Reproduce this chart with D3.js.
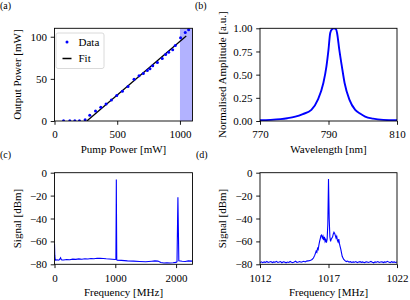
<!DOCTYPE html>
<html><head><meta charset="utf-8">
<script src="https://cdn.jsdelivr.net/npm/d3@7/dist/d3.min.js"></script>
<style>
html,body{margin:0;padding:0;background:#fff;}
svg{display:block;}
svg text{font-family:"Liberation Serif","Times New Roman",serif !important;fill:#000;}
</style></head>
<body>
<svg id="fig" width="410" height="300"></svg>
<script>
// ---------- data ----------
// (a) pump vs output power
const aPump = [72,122,162,199,244,281,327,369,411,454,496,541,586,634,674,708,740,761,783,820,859,886,910,942,963,1005,1042,1069];
const aOut  = [0.3,0.3,0.3,0.3,1.5,6.7,11.9,16.3,20.2,25,30.2,35.3,40.9,49.6,53.6,56.4,59.9,61.9,65.5,69.4,74.2,79,81.7,84.5,89.7,98.8,105,108.3];
const aFitX = [258,1050];
const aFitY = [0,101];
const aShade = [1000,1100];
const aXTicks = [0,500,1000];
const aYTicks = [0,50,100];

// (b) spectrum
const bWl  = [770,773,776,778,780.3,782.5,785.0,786.9,788.5,789.4,790.0,790.5,791.0,791.6,792.2,792.5,793.15,793.9,794.7,796.1,797.8,799.2,800.7,803,806,810];
const bAmp = [0.008,0.012,0.02,0.03,0.047,0.075,0.12,0.23,0.41,0.59,0.77,0.95,0.99,1.0,0.99,0.95,0.77,0.59,0.41,0.23,0.12,0.08,0.047,0.025,0.012,0.008];
const bXTicks = [770,790,810];
const bYTicks = [0,0.25,0.5,0.75,1.0];

// (c) wide RF spectrum
const cFreq = [0,2,5,10,20,40,60,80,100,110,120,150,200,250,300,350,400,450,500,550,600,650,700,750,800,850,900,950,1000,1010,1015,1017,1019,1024,1030,1100,1200,1300,1400,1500,1600,1650,1700,1750,1800,1850,1900,1950,2000,2015,2025,2030,2035,2045,2100,2150,2200,2270];
const cSig  = [-62,-66,-72,-75,-76.5,-76,-76.3,-76,-74.3,-75.8,-76.2,-76.2,-75.8,-76,-75.5,-75.7,-75.3,-75.6,-75.2,-75.4,-75,-75.2,-74.7,-74.8,-74.9,-75.2,-75.4,-75.6,-75.8,-75.5,-30,-6,-30,-75.8,-76.4,-76.6,-77,-77.2,-77.5,-77.8,-77.3,-77,-77.2,-78.5,-78.8,-78.7,-78.8,-78.6,-78.3,-77.8,-40,-21.5,-40,-77,-77.3,-77.5,-77,-77.2];
const cXTicks = [0,1000,2000];
const cYTicks = [-80,-60,-40,-20,0];

// (d) zoomed RF spectrum
const dFreq = [1012.0,1012.1,1012.2,1012.3,1012.4,1012.5,1012.6,1012.7,1012.8,1012.9,1013.0,1013.1,1013.2,1013.3,1013.4,1013.5,1013.6,1013.7,1013.8,1013.9,1014.0,1014.1,1014.2,1014.3,1014.4,1014.5,1014.6,1014.7,1014.8,1014.9,1015.0,1015.1,1015.2,1015.3,1015.4,1015.5,1015.6,1015.7,1015.8,1015.9,1016.0,1016.1,1016.15,1016.2,1016.25,1016.3,1016.35,1016.4,1016.45,1016.5,1016.55,1016.6,1016.65,1016.7,1016.75,1016.8,1016.85,1016.9,1016.95,1017.0,1017.05,1017.1,1017.15,1017.2,1017.25,1017.3,1017.35,1017.4,1017.45,1017.5,1017.55,1017.6,1017.65,1017.7,1017.75,1017.8,1017.85,1017.9,1017.95,1018.0,1018.1,1018.2,1018.3,1018.4,1018.5,1018.6,1018.7,1018.8,1018.9,1019.0,1019.1,1019.2,1019.3,1019.4,1019.5,1019.6,1019.7,1019.8,1019.9,1020.0,1020.1,1020.2,1020.3,1020.4,1020.5,1020.6,1020.7,1020.8,1020.9,1021.0,1021.1,1021.2,1021.3,1021.4,1021.5,1021.6,1021.7,1021.8,1021.9,1022.0];
const dSig  = [-78.5,-77.8,-78.6,-77.9,-78.3,-77.5,-78.4,-78.0,-77.6,-78.5,-77.9,-78.2,-77.4,-78.3,-78.0,-77.6,-78.6,-77.8,-78.1,-78.7,-78.0,-78.4,-77.5,-78.2,-78.6,-77.9,-77.3,-78.3,-78.0,-77.6,-78.2,-77.8,-77.4,-77.9,-77.2,-77.0,-76.8,-76.5,-75.8,-74.5,-72.0,-68.5,-69.5,-66.0,-67.0,-63.0,-60.0,-57.5,-55.0,-54.5,-57.0,-55.5,-59.0,-56.0,-60.0,-58.5,-61.0,-58.0,-45.0,-5.5,-40.0,-56.0,-60.0,-58.0,-57.0,-56.0,-53.5,-52.0,-53.0,-55.0,-57.0,-55.5,-59.0,-60.5,-58.0,-62.0,-64.5,-67.0,-70.0,-73.0,-75.5,-76.8,-77.6,-77.2,-78.1,-77.7,-78.4,-77.9,-78.2,-77.6,-78.5,-78.0,-77.7,-78.3,-77.9,-78.6,-78.1,-77.8,-78.4,-78.0,-77.5,-78.3,-78.7,-77.9,-78.2,-77.6,-78.4,-78.0,-77.8,-78.5,-77.9,-78.2,-77.4,-78.1,-78.6,-77.7,-78.3,-77.9,-78.4,-78.0];
const dXTicks = [1012,1017,1022];
const dYTicks = [-80,-60,-40,-20,0];

// ---------- drawing ----------
const svg = d3.select("#fig");
const FS = 11;
const BLUE = "#0000ff";

function panel(o) {
  const g = svg.append("g");
  const x = d3.scaleLinear().domain(o.xd).range([o.l, o.r]);
  const y = d3.scaleLinear().domain(o.yd).range([o.b, o.t]);
  const clipId = "clip" + o.id;
  svg.append("clipPath").attr("id", clipId).append("rect")
    .attr("x", o.l).attr("y", o.t).attr("width", o.r - o.l).attr("height", o.b - o.t);
  const plot = g.append("g").attr("clip-path", `url(#${clipId})`);
  o.draw(plot, x, y);
  g.append("rect").attr("x", o.l).attr("y", o.t).attr("width", o.r - o.l).attr("height", o.b - o.t)
    .attr("fill", "none").attr("stroke", "#000").attr("stroke-width", 0.9);
  const xa = g.append("g").attr("transform", `translate(0,${o.b})`)
    .call(d3.axisBottom(x).tickValues(o.xt).tickSize(3.8).tickPadding(5.6).tickFormat(o.xf || d3.format("d")));
  const ya = g.append("g").attr("transform", `translate(${o.l},0)`)
    .call(d3.axisLeft(y).tickValues(o.yt).tickSize(3.8).tickPadding(3.6).tickFormat(o.yf || d3.format("d")));
  [xa, ya].forEach(a => {
    a.attr("font-size", FS);
    a.select(".domain").remove();
    a.selectAll("line").attr("stroke", "#000").attr("stroke-width", 0.9);
    a.selectAll("text").style("font-size", FS + "px");
  });
  g.append("text").attr("x", (o.l + o.r) / 2).attr("y", o.b + 32).attr("text-anchor", "middle")
    .style("font-size", FS + "px").text(o.xl);
  g.append("text").attr("transform", `translate(${o.yx},${(o.t + o.b) / 2}) rotate(-90)`)
    .attr("text-anchor", "middle").style("font-size", FS + "px").text(o.yl);
  g.append("text").attr("x", o.px).attr("y", o.py).style("font-size", (FS - 1) + "px").text(o.lab);
}

const line = (x, y, xs, ys) => d3.line().x((d, i) => x(xs[i])).y((d, i) => y(ys[i]))(xs);

// (a)
panel({
  id: "a", l: 54.5, r: 192.5, t: 28.3, b: 121, xd: [0, 1100], yd: [0, 110],
  xt: aXTicks, yt: aYTicks, xl: "Pump Power [mW]", yl: "Output Power [mW]",
  yx: 20.5, px: 0, py: 9, lab: "(a)",
  draw: (p, x, y) => {
    p.append("rect").attr("x", x(aShade[0])).attr("y", y(110)).attr("width", x(aShade[1]) - x(aShade[0]))
      .attr("height", y(0) - y(110)).attr("fill", BLUE).attr("fill-opacity", 0.3);
    p.append("path").attr("d", line(x, y, aFitX, aFitY)).attr("stroke", "#000").attr("stroke-width", 1.3).attr("fill", "none");
    p.selectAll("circle.pt").data(aPump).enter().append("circle")
      .attr("cx", d => x(d)).attr("cy", (d, i) => y(aOut[i])).attr("r", 1.5).attr("fill", BLUE);
    const lg = p.append("g");
    lg.append("rect").attr("x", 56).attr("y", 33).attr("width", 48).attr("height", 35.5).attr("rx", 2)
      .attr("fill", "#fff").attr("fill-opacity", 0.85).attr("stroke", "#d0d0d0").attr("stroke-width", 0.8);
    lg.append("circle").attr("cx", 67).attr("cy", 42).attr("r", 1.5).attr("fill", BLUE);
    lg.append("text").attr("x", 78.5).attr("y", 46.3).style("font-size", FS + "px").text("Data");
    lg.append("line").attr("x1", 62.5).attr("x2", 71.5).attr("y1", 58.5).attr("y2", 58.5).attr("stroke", "#000").attr("stroke-width", 1.3);
    lg.append("text").attr("x", 78.5).attr("y", 62.3).style("font-size", FS + "px").text("Fit");
  }
});

// (b)
panel({
  id: "b", l: 260, r: 397, t: 28.3, b: 121, xd: [770, 810], yd: [0, 1],
  xt: bXTicks, yt: bYTicks, yf: d3.format(".2f"), xl: "Wavelength [nm]", yl: "Normalised Amplitude [a.u.]",
  yx: 226, px: 195, py: 9, lab: "(b)",
  draw: (p, x, y) => {
    p.append("path").attr("d", d3.line().curve(d3.curveMonotoneX).x((d, i) => x(bWl[i])).y((d, i) => y(bAmp[i]))(bWl))
      .attr("stroke", BLUE).attr("stroke-width", 1.9).attr("fill", "none");
  }
});

// (c)
panel({
  id: "c", l: 54.5, r: 192.5, t: 172.7, b: 264.3, xd: [0, 2270], yd: [-80, 0],
  xt: cXTicks, yt: cYTicks, xl: "Frequency [MHz]", yl: "Signal [dBm]",
  yx: 20.5, px: 0, py: 158, lab: "(c)",
  draw: (p, x, y) => {
    p.append("path").attr("d", line(x, y, cFreq, cSig)).attr("stroke", BLUE).attr("stroke-width", 1.1).attr("fill", "none");
  }
});

// (d)
panel({
  id: "d", l: 260, r: 397, t: 172.7, b: 264.3, xd: [1012, 1022], yd: [-80, 0],
  xt: dXTicks, yt: dYTicks, xl: "Frequency [MHz]", yl: "Signal [dBm]",
  yx: 225.5, px: 196, py: 158, lab: "(d)",
  draw: (p, x, y) => {
    p.append("path").attr("d", line(x, y, dFreq, dSig)).attr("stroke", BLUE).attr("stroke-width", 1.1).attr("fill", "none");
  }
});
</script>
</body></html>
